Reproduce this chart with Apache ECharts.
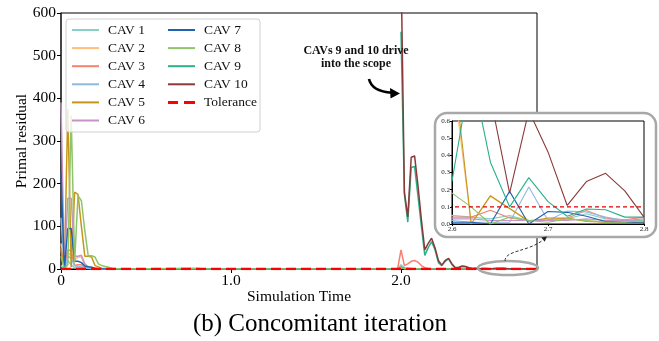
<!DOCTYPE html>
<html><head><meta charset="utf-8">
<script src="https://cdn.jsdelivr.net/npm/echarts@6/dist/echarts.min.js"></script>
<style>html,body{margin:0;padding:0;background:#fff}#c{width:659px;height:341px}</style>
</head><body><div id="c"></div>
<script>
const seriesNames = ['CAV 1','CAV 2','CAV 3','CAV 4','CAV 5','CAV 6','CAV 7','CAV 8','CAV 9','CAV 10'];
const seriesColors = ['#86d0c6','#fdbf7a','#f8816f','#8fb9de','#c4961a','#c792c6','#1f63b0','#8fc46b','#2bb08a','#8b3a3a'];

const cav1 = [[0,8],[0.02,0],[0.04,20],[0.06,10],[0.08,3],[0.10,5],[0.12,4],[0.14,2],[0.16,1],[0.20,0.4],[0.30,0.1],[1.98,0.05],[2.00,10],[2.02,3],[2.06,1],[2.12,0.3],[2.58,0.05],
  [2.60,0.05],[2.62,0.04],[2.64,0.03],[2.66,0.05],[2.68,0.02],[2.70,0.02],[2.72,0.03],[2.74,0.06],[2.76,0.03],[2.78,0.02],[2.80,0.02]];
const cav2 = [[0,60],[0.02,0],[0.04,40],[0.06,30],[0.08,22],[0.10,28],[0.12,28],[0.14,8],[0.16,6],[0.18,4],[0.20,2],[0.24,0.5],[0.32,0.1],[1.98,0.05],[2.00,5],[2.02,1],[2.10,0.3],[2.58,0.6],
  [2.60,0.9],[2.62,0.0],[2.64,0.16],[2.66,0.09],[2.68,0.02],[2.70,0.03],[2.72,0.03],[2.74,0.02],[2.76,0.01],[2.78,0.01],[2.80,0.01]];
const cav3 = [[0,50],[0.02,0],[0.04,45],[0.06,42],[0.08,8],[0.10,10],[0.12,10],[0.14,4],[0.16,2],[0.18,1],[0.24,0.3],[1.98,0.1],[2.00,45],[2.02,8],[2.04,12],[2.06,18],[2.08,20],[2.10,16],[2.12,8],[2.14,3],[2.16,1],[2.24,0.3],[2.58,0.05],
  [2.60,0.04],[2.62,0.04],[2.64,0.08],[2.66,0.035],[2.68,0.02],[2.70,0.025],[2.72,0.035],[2.74,0.078],[2.76,0.035],[2.78,0.025],[2.80,0.04]];
const cav4 = [[0,120],[0.02,0],[0.04,30],[0.06,25],[0.08,8],[0.10,6],[0.12,5],[0.14,2],[0.18,1],[0.26,0.2],[1.98,0.05],[2.00,6],[2.02,1],[2.10,0.2],[2.58,0.02],
  [2.60,0.02],[2.62,0.01],[2.64,0.01],[2.66,0.01],[2.68,0.215],[2.70,0.02],[2.72,0.075],[2.74,0.07],[2.76,0.04],[2.78,0.02],[2.80,0.02]];
const cav5 = [[0,45],[0.02,0],[0.04,375],[0.06,5],[0.08,180],[0.10,175],[0.12,100],[0.14,30],[0.16,30],[0.18,28],[0.20,8],[0.22,5],[0.24,2],[0.28,0.5],[0.34,0.1],[1.98,0.05],[2.00,4],[2.02,1],[2.10,0.3],[2.58,0.5],
  [2.60,1.0],[2.62,0.0],[2.64,0.165],[2.66,0.09],[2.68,0.015],[2.70,0.035],[2.72,0.035],[2.74,0.015],[2.76,0.01],[2.78,0.01],[2.80,0.01]];
const cav6 = [[0,390],[0.02,0],[0.04,166],[0.06,166],[0.08,30],[0.10,30],[0.12,32],[0.14,12],[0.16,5],[0.18,3],[0.20,1],[0.26,0.3],[1.98,0.05],[2.00,3],[2.02,1],[2.10,0.2],[2.58,0.03],
  [2.60,0.03],[2.62,0.03],[2.64,0.02],[2.66,0.02],[2.68,0.02],[2.70,0.02],[2.72,0.02],[2.74,0.03],[2.76,0.02],[2.78,0.02],[2.80,0.03]];
const cav7 = [[0,225],[0.02,0],[0.04,95],[0.06,95],[0.08,18],[0.10,18],[0.12,15],[0.14,7],[0.16,5],[0.18,4],[0.20,2],[0.22,0.5],[0.30,0.1],[1.98,0.05],[2.00,3],[2.02,1],[2.10,0.2],[2.58,0.01],
  [2.60,0.01],[2.62,0.01],[2.64,0.0],[2.66,0.19],[2.68,0.0],[2.70,0.073],[2.72,0.068],[2.74,0.045],[2.76,0.015],[2.78,0.01],[2.80,0.01]];
const cav8 = [[0,30],[0.02,0],[0.04,10],[0.06,360],[0.08,15],[0.10,172],[0.12,160],[0.14,90],[0.16,31],[0.18,31],[0.20,28],[0.22,12],[0.24,8],[0.26,6],[0.28,4],[0.30,2],[0.34,0.5],[0.40,0.2],[0.80,1.5],[0.84,0.2],[1.98,0.1],[2.00,3],[2.02,1],[2.10,0.3],[2.58,0.2],
  [2.60,0.18],[2.62,0.10],[2.64,0.0],[2.66,0.04],[2.68,0.02],[2.70,0.01],[2.72,0.03],[2.74,0.02],[2.76,0.01],[2.78,0.01],[2.80,0.02]];
const cav9 = [[2.00,556],[2.02,175],[2.04,110],[2.06,238],[2.08,240],[2.10,170],[2.12,100],[2.14,32],[2.16,50],[2.18,64],[2.20,45],[2.22,15],[2.24,8],[2.26,18],[2.28,24],[2.30,10],[2.32,2],[2.34,3],[2.36,6],[2.38,5],[2.40,1.5],[2.42,0.6],[2.44,1],[2.46,0.5],[2.48,0.6],[2.50,0.8],[2.52,0.4],[2.54,0.5],[2.56,0.3],[2.58,0.2],
  [2.60,0.25],[2.62,0.9],[2.64,0.36],[2.66,0.10],[2.68,0.27],[2.70,0.13],[2.72,0.045],[2.74,0.087],[2.76,0.083],[2.78,0.04],[2.80,0.04]];
const cav10 = [[2.00,720],[2.02,180],[2.04,122],[2.06,262],[2.08,265],[2.10,195],[2.12,115],[2.14,45],[2.16,60],[2.18,72],[2.20,50],[2.22,20],[2.24,9],[2.26,20],[2.28,25],[2.30,12],[2.32,3],[2.34,4],[2.36,7],[2.38,6],[2.40,3],[2.42,1],[2.44,1.5],[2.46,0.8],[2.48,1],[2.50,1.2],[2.52,0.8],[2.54,1],[2.56,1.5],[2.58,1.8],
  [2.60,2.0],[2.62,1.2],[2.64,0.74],[2.66,0.18],[2.68,0.66],[2.70,0.42],[2.72,0.108],[2.74,0.247],[2.76,0.295],[2.78,0.193],[2.80,0.04]];
const tolerance = [[0,0.1],[2.8,0.1]];
const mainXTicks = [0,1,2];
const insetXTicks = [2.6,2.7,2.8];

const allData = [cav1,cav2,cav3,cav4,cav5,cav6,cav7,cav8,cav9,cav10];
const FONT = 'Liberation Serif';
const LINE_ICON = 'path://M0,0H27V2H0Z';
const DASH_ICON = 'path://M0,0H10V3H0Z M16,0H27V3H16Z';

const chart = echarts.init(document.getElementById('c'), null, {renderer:'canvas'});
const series = [];
allData.forEach((d,i)=>{
  series.push({type:'line', name:seriesNames[i], data:d, xAxisIndex:0, yAxisIndex:0, symbol:'none', clip:true,
    lineStyle:{width:1.5,color:seriesColors[i]}, itemStyle:{color:seriesColors[i]}, z:2});
});
series.push({type:'line', name:'Tolerance', data:tolerance, xAxisIndex:0, yAxisIndex:0, symbol:'none', clip:true,
  lineStyle:{width:2.5,color:'#ff0000',type:[10,5]}, itemStyle:{color:'#ff0000'}, z:3});
allData.forEach((d,i)=>{
  series.push({type:'line', name:seriesNames[i], data:d, xAxisIndex:1, yAxisIndex:1, symbol:'none', clip:true,
    lineStyle:{width:1.1,color:seriesColors[i]}, itemStyle:{color:seriesColors[i]}, z:12});
});
series.push({type:'line', name:'Tolerance', data:tolerance, xAxisIndex:1, yAxisIndex:1, symbol:'none', clip:true,
  lineStyle:{width:1.3,color:'#e00000',type:[4,3]}, itemStyle:{color:'#ff0000'}, z:13});

const legendCommon = {orient:'vertical', itemWidth:27, itemHeight:14, itemGap:4.1, z:5, padding:0, symbolKeepAspect:true,
  textStyle:{fontFamily:FONT, fontSize:13.5, color:'#111', padding:[0,0,0,4]}};
const legItems = names => names.map(n => ({name:n, icon: n === 'Tolerance' ? DASH_ICON : LINE_ICON}));

chart.setOption({
  animation:false,
  backgroundColor:'#fff',
  grid:[
    {left:61, right:122, top:13, bottom:72, show:true, borderColor:'#000', borderWidth:1},
    {left:452, top:121, width:192, height:103, show:true, borderColor:'#000', borderWidth:1, backgroundColor:'#fff', z:11}
  ],
  xAxis:[
    {type:'value', gridIndex:0, min:0, max:2.8, name:'Simulation Time', nameLocation:'middle', nameGap:20, nameMoveOverlap:false,
      nameTextStyle:{fontFamily:FONT, fontSize:15.5, color:'#000'},
      axisLine:{lineStyle:{color:'#000',width:1}},
      axisTick:{show:true, length:4, customValues:mainXTicks, lineStyle:{color:'#000'}},
      axisLabel:{customValues:mainXTicks, margin:4, fontFamily:FONT, fontSize:15.5, color:'#000', formatter:v=>v===0?'0':v.toFixed(1)},
      splitLine:{show:false}},
    {type:'value', gridIndex:1, min:2.6, max:2.8, z:12,
      axisLine:{lineStyle:{color:'#000',width:1}},
      axisTick:{show:true, length:2, customValues:insetXTicks, lineStyle:{color:'#000'}},
      axisLabel:{customValues:insetXTicks, margin:2, fontFamily:FONT, fontSize:7, color:'#222', formatter:v=>v.toFixed(1)},
      splitLine:{show:false}}
  ],
  yAxis:[
    {type:'value', gridIndex:0, min:0, max:600, interval:100, name:'Primal residual', nameLocation:'middle', nameGap:31, nameMoveOverlap:false,
      nameTextStyle:{fontFamily:FONT, fontSize:15.5, color:'#000'},
      axisLine:{show:true, lineStyle:{color:'#333',width:1.5}},
      axisTick:{show:true, length:4, lineStyle:{color:'#000'}},
      axisLabel:{margin:5, fontFamily:FONT, fontSize:15.5, color:'#000'},
      splitLine:{show:false}},
    {type:'value', gridIndex:1, min:0, max:0.6, interval:0.1, z:12,
      axisLine:{show:true, lineStyle:{color:'#000',width:1}},
      axisTick:{show:true, length:2, lineStyle:{color:'#000'}},
      axisLabel:{margin:2, fontFamily:FONT, fontSize:7, color:'#222', formatter:v=>v.toFixed(1)},
      splitLine:{show:false}}
  ],
  legend:[
    Object.assign({left:72, top:23, data:legItems(seriesNames.slice(0,6))}, legendCommon),
    Object.assign({left:168, top:23, data:legItems(seriesNames.slice(6).concat(['Tolerance']))}, legendCommon)
  ],
  graphic:[
    {type:'rect', z:3, shape:{x:66, y:19, width:194, height:113, r:3}, style:{fill:'rgba(255,255,255,0.8)', stroke:'#d0d0d0', lineWidth:1}},
    {type:'rect', z:10, shape:{x:435, y:113, width:221, height:124, r:12}, style:{fill:'#fff', stroke:'#a8a8a8', lineWidth:2.5}},
    {type:'ellipse', z:15, shape:{cx:508, cy:268, rx:30, ry:7}, style:{fill:'none', stroke:'#a8a8a8', lineWidth:2.5}},
    {type:'bezierCurve', z:15, shape:{x1:505, y1:261, cpx1:505, cpy1:250, cpx2:528, cpy2:252, x2:543, y2:240}, style:{fill:'none', stroke:'#333', lineWidth:1, lineDash:[3,2]}},
    {type:'polygon', z:15, shape:{points:[[547,236.5],[544.7,241.8],[541.3,237.6]]}, style:{fill:'#222'}},
    {type:'text', z:15, style:{text:'CAVs 9 and 10 drive\ninto the scope', x:356, y:44, textAlign:'center', font:'bold 12px "Liberation Serif"', lineHeight:13, fill:'#111'}},
    {type:'bezierCurve', z:15, shape:{x1:369, y1:79, cpx1:371, cpy1:88, cpx2:381, cpy2:92, x2:392, y2:92.8}, style:{fill:'none', stroke:'#000', lineWidth:2.6}},
    {type:'polygon', z:15, shape:{points:[[400,93.5],[390,88],[390.5,98.5]]}, style:{fill:'#000'}},
    {type:'text', z:15, style:{text:'(b) Concomitant iteration', x:320, y:324, textAlign:'center', textVerticalAlign:'middle', font:'25px "Liberation Serif"', fill:'#000'}}
  ],
  series:series
});
</script></body></html>
